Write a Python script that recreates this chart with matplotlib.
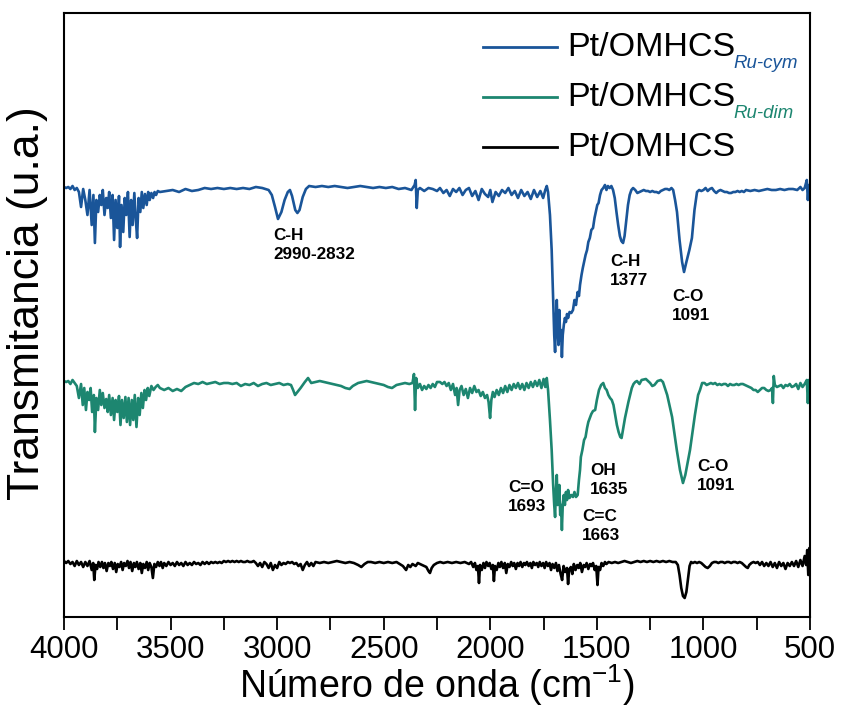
import numpy as np
import matplotlib
matplotlib.use("Agg")
import matplotlib.pyplot as plt

plt.rcParams['font.family'] = ['Liberation Sans', 'DejaVu Sans']

# ---- data (wavenumber, cm-1) and transmittance in arbitrary units (plotted on an inverted scale) ----
wn_blue = [4000, 3990, 3980, 3970, 3960, 3950, 3940, 3930, 3920, 3910, 3900, 3890, 3880, 3870, 3862, 3855, 3848, 3840, 3832, 3825,
           3818, 3810, 3802, 3795, 3788, 3780, 3772, 3765, 3758, 3750, 3742, 3737, 3730, 3722, 3715, 3708, 3700, 3692, 3685, 3678,
           3670, 3663, 3657, 3650, 3642, 3635, 3628, 3620, 3612, 3605, 3598, 3590, 3582, 3575, 3568, 3560, 3550,
           3520, 3490, 3460, 3430, 3400, 3370, 3340, 3310, 3280, 3250, 3220, 3190, 3160, 3130, 3100, 3070, 3040,
           3025, 3010, 2996, 2980, 2965, 2950, 2940, 2930, 2915, 2905, 2895, 2880, 2865, 2850,
           2820, 2790, 2760, 2730, 2700, 2670, 2640, 2610, 2580, 2550, 2520, 2490, 2460, 2430, 2400, 2370, 2355, 2350, 2345, 2340,
           2330, 2310, 2290, 2270, 2250, 2236, 2220, 2205, 2190, 2175, 2160, 2145, 2130, 2115, 2100, 2085, 2070, 2055, 2040, 2025,
           2010, 2000, 1990, 1975, 1960, 1945, 1930, 1915, 1900, 1885, 1870, 1855, 1840, 1825, 1810, 1795, 1780, 1765, 1752, 1742,
           1735, 1729, 1720, 1712, 1705, 1700, 1696, 1692, 1688, 1684, 1680, 1676, 1672, 1668, 1664, 1660, 1655, 1650, 1645, 1640,
           1635, 1628, 1620, 1612, 1605, 1598, 1590, 1584, 1579, 1572, 1566, 1560, 1553, 1546, 1540, 1533, 1526, 1518, 1511, 1505,
           1498, 1492, 1485, 1478, 1470, 1462, 1455, 1448, 1440, 1432, 1424, 1416, 1408, 1400, 1392, 1385, 1377, 1370, 1362, 1354,
           1346, 1338, 1330, 1320, 1310, 1300, 1290, 1280, 1270, 1260, 1250, 1240, 1230, 1220, 1210, 1200, 1190, 1180, 1170, 1160,
           1150, 1142, 1133, 1124, 1112, 1100, 1091, 1080, 1066, 1054, 1042, 1030, 1020, 1010, 1000, 990, 980, 970, 960, 950,
           940, 930, 920, 910, 900, 890, 880, 870, 860, 850, 840, 830, 820, 810, 800, 780, 760, 740, 720, 700,
           680, 660, 640, 620, 600, 580, 560, 545, 535, 525, 515, 510, 505, 500]
t_blue = [187, 188, 187, 189, 186, 190, 188, 192, 207, 189, 200, 215, 190, 225, 195, 243, 200, 212, 195, 205,
          190, 215, 198, 208, 192, 218, 195, 240, 200, 228, 196, 247, 205, 232, 198, 215, 192, 237, 200, 225,
          193, 220, 238, 198, 212, 192, 208, 194, 205, 192, 200, 193, 198, 192, 195, 191, 192,
          191, 190, 192, 189, 191, 190, 188, 189, 188, 189, 188, 189, 188, 189, 187, 188, 190,
          195, 207, 219, 212, 200, 192, 190, 196, 210, 213, 210, 197, 189, 186,
          187, 186, 187, 186, 187, 188, 187, 186, 187, 188, 187, 188, 187, 189, 188, 190, 185, 180, 208, 190,
          188, 191, 188, 189, 191, 188, 193, 190, 196, 189, 192, 188, 195, 190, 188, 196, 191, 200, 189, 194,
          197, 190, 202, 192, 196, 190, 193, 188, 195, 191, 198, 190, 196, 192, 199, 190, 197, 191, 198, 190,
          186, 192, 215, 250, 300, 335, 352, 320, 300, 330, 345, 310, 340, 330, 357, 335, 325, 318, 322, 314,
          318, 312, 313, 310, 300, 305, 292, 296, 285, 275, 268, 262, 255, 250, 242, 238, 230, 228, 218, 212,
          205, 203, 195, 190, 188, 185, 190, 186, 188, 186, 190, 198, 212, 225, 236, 241, 243, 236, 220, 205,
          195, 190, 188, 190, 193, 192, 191, 190, 191, 191, 192, 191, 192, 192, 193, 191, 190, 189, 189, 190,
          188, 190, 200, 212, 240, 262, 272, 262, 250, 238, 210, 192, 190, 191, 190, 188, 191, 189, 188, 191,
          193, 191, 190, 191, 192, 192, 193, 193, 192, 192, 191, 192, 191, 192, 190, 191, 190, 191, 190, 189,
          190, 190, 189, 190, 189, 189, 190, 187, 190, 188, 180, 200, 185, 190]

wn_green = [4000, 3990, 3980, 3970, 3960, 3950, 3940, 3930, 3920, 3912, 3905, 3897, 3890, 3882, 3875, 3868, 3860, 3855, 3848, 3840,
            3832, 3825, 3818, 3810, 3802, 3795, 3788, 3780, 3772, 3765, 3758, 3750, 3742, 3735, 3728, 3720, 3712, 3705, 3697, 3690,
            3682, 3675, 3668, 3660, 3652, 3645, 3637, 3630, 3622, 3615, 3607, 3600, 3590, 3580, 3570, 3560, 3550,
            3530, 3510, 3490, 3470, 3450, 3430, 3410, 3390, 3370, 3350, 3330, 3310, 3290, 3270, 3250, 3230, 3210, 3190, 3170, 3150,
            3130, 3110, 3090, 3070, 3050, 3030, 3010, 2990, 2970, 2950, 2935, 2925, 2916, 2905, 2890, 2870, 2855, 2840, 2820, 2800,
            2780, 2760, 2740, 2720, 2700, 2680, 2660, 2645, 2620, 2600, 2580, 2560, 2540, 2520, 2500, 2480, 2461, 2440, 2420, 2400,
            2380, 2365, 2358, 2353, 2348, 2340, 2330, 2320, 2310, 2300, 2290, 2280, 2270, 2260, 2250,
            2236, 2225, 2215, 2205, 2195, 2185, 2175, 2165, 2158, 2151, 2144, 2135, 2125, 2115, 2105, 2095, 2085, 2075, 2065, 2055,
            2045, 2035, 2025, 2015, 2008, 2001, 1995, 1988, 1980, 1970, 1960, 1950, 1940, 1930, 1920, 1910, 1900, 1890, 1880, 1870,
            1860, 1850, 1840, 1830, 1820, 1810, 1800, 1790, 1780, 1770, 1760, 1750, 1742, 1735, 1729,
            1720, 1712, 1705, 1700, 1696, 1692, 1688, 1684, 1680, 1676, 1672, 1668, 1664, 1660, 1655, 1650, 1645, 1640, 1635, 1628,
            1620, 1612, 1605, 1598, 1590, 1584, 1579, 1575, 1568, 1560, 1553, 1546, 1540, 1533, 1526, 1518,
            1508, 1500, 1490, 1480, 1470, 1462, 1454, 1446, 1438, 1430, 1422, 1414, 1406, 1398, 1390, 1384, 1376, 1368, 1360, 1352,
            1344, 1336, 1328, 1320, 1312, 1300, 1290, 1270, 1250, 1240, 1230, 1215, 1200, 1190, 1170, 1147, 1125, 1110, 1096, 1085,
            1063, 1040, 1025, 1016, 1006, 995, 985, 975, 965, 955, 945, 935, 925, 915, 905, 895, 885, 875, 865, 855,
            845, 835, 825, 815, 805, 795, 785, 775, 765, 755, 745, 735, 725, 715, 705, 695, 685, 678, 674, 670,
            665, 655, 645, 635, 625, 615, 605, 595, 585, 575, 565, 555, 545, 535, 525, 515, 510, 505, 500]
t_green = [381, 382, 381, 384, 380, 383, 386, 398, 384, 405, 388, 410, 392, 400, 388, 412, 395, 432, 398, 410,
           390, 405, 393, 408, 399, 412, 395, 415, 398, 420, 400, 412, 396, 425, 400, 418, 397, 422, 398, 425,
           400, 420, 395, 427, 398, 415, 393, 408, 390, 400, 388, 396, 386, 390, 387, 385, 388,
           390, 388, 391, 389, 391, 387, 385, 383, 384, 382, 384, 383, 382, 384, 383, 383, 384, 383, 386, 384,
           385, 383, 386, 384, 383, 385, 384, 383, 385, 384, 385, 390, 395, 392, 388, 382, 378, 383, 382, 381,
           382, 383, 384, 385, 386, 388, 389, 386, 383, 382, 381, 382, 383, 384, 385, 387, 388, 385, 384, 383,
           384, 383, 374, 410, 378, 388, 384, 390, 386, 389, 385, 388, 384, 387, 382,
           382, 384, 382, 386, 383, 390, 384, 395, 388, 405, 390, 386, 395, 389, 398, 388, 393, 386, 392, 390,
           396, 392, 398, 395, 402, 418, 400, 392, 397, 390, 395, 388, 393, 386, 392, 385, 390, 384, 388, 383,
           389, 384, 390, 383, 388, 382, 387, 381, 386, 380, 388, 379, 387, 378, 390,
           420, 450, 485, 505, 517, 490, 475, 505, 500, 485, 515, 505, 530, 505, 495, 505, 492, 500, 490, 498,
           495, 497, 492, 497, 495, 480, 470, 457, 450, 440, 437, 428, 422, 418, 414, 411,
           410, 400, 390, 385, 383, 388, 390, 395, 398, 400, 405, 415, 425, 432, 437, 438, 428, 418, 410, 402,
           395, 388, 384, 382, 381, 384, 380, 379, 383, 386, 385, 381, 380, 382, 395, 417, 450, 470, 483, 475,
           450, 415, 395, 390, 383, 383, 385, 384, 383, 384, 383, 385, 384, 385, 384, 384, 386, 384, 385, 385,
           384, 385, 384, 384, 385, 386, 387, 388, 390, 390, 392, 390, 388, 388, 390, 391, 390, 388, 403, 376,
           385, 387, 386, 385, 388, 385, 386, 384, 387, 386, 384, 389, 383, 387, 384, 380, 403, 380, 385]

wn_black = [4000, 3990, 3980, 3970, 3960, 3950, 3940, 3930, 3920, 3910, 3900, 3890, 3880, 3870, 3863, 3858, 3852, 3845, 3838, 3830,
            3822, 3815, 3808, 3800, 3792, 3785, 3778, 3770, 3762, 3755, 3748, 3740, 3732, 3725, 3718, 3710, 3702, 3695, 3688, 3680,
            3672, 3665, 3658, 3650, 3642, 3635, 3628, 3620, 3612, 3605, 3598, 3590, 3583, 3576, 3568, 3560, 3552, 3545, 3537, 3530,
            3520, 3510, 3500, 3490, 3480, 3470, 3460, 3450, 3440, 3430, 3420, 3410, 3400, 3390, 3380, 3370, 3360, 3350, 3340, 3330,
            3320, 3310, 3300, 3290, 3280, 3270, 3260, 3250, 3240, 3230, 3220, 3210, 3200, 3190, 3180, 3170, 3160, 3150, 3140, 3130,
            3120, 3110, 3100, 3090, 3080, 3070, 3060, 3050, 3040, 3030, 3020, 3010, 3000, 2990, 2980, 2970, 2960, 2950, 2940, 2930,
            2920, 2910, 2900, 2890, 2880, 2870, 2860, 2850, 2840, 2830, 2820, 2800, 2780, 2760, 2740, 2720, 2700, 2680, 2660, 2640,
            2620, 2605, 2590, 2575, 2560, 2540, 2520, 2500, 2480, 2460, 2440, 2425, 2410, 2395, 2385, 2375, 2365, 2350, 2340, 2320,
            2300, 2290, 2283, 2275, 2265, 2250, 2235, 2220, 2200, 2180, 2160, 2140, 2120, 2100, 2090, 2080, 2072, 2065, 2058, 2053,
            2048, 2040, 2032, 2025, 2018, 2010, 2003, 1995, 1988, 1983, 1978, 1970, 1962, 1955, 1948, 1940, 1932, 1925, 1918, 1910,
            1902, 1895, 1888, 1880, 1872, 1865, 1858, 1850, 1842, 1835, 1828, 1820, 1812, 1805, 1798, 1790, 1782, 1775, 1768, 1760,
            1752, 1745, 1738, 1730, 1722, 1715, 1708, 1700, 1692, 1685, 1678, 1670, 1663, 1656, 1648, 1640, 1635, 1630, 1622, 1615,
            1608, 1600, 1592, 1585, 1578, 1570, 1562, 1555, 1548, 1540, 1532, 1525, 1518, 1510, 1503, 1497, 1492, 1485, 1478, 1470,
            1462, 1455, 1445, 1430, 1415, 1400, 1385, 1370, 1355, 1340, 1325, 1310, 1295, 1280, 1265, 1250, 1235, 1220, 1205, 1190,
            1175, 1160, 1145, 1130, 1120, 1112, 1104, 1096, 1088, 1080, 1072, 1065, 1058, 1050, 1040, 1030, 1020, 1010, 1000, 990,
            980, 970, 960, 950, 940, 930, 920, 910, 900, 890, 880, 870, 860, 850, 840, 830, 820, 810, 800, 792,
            785, 775, 765, 755, 745, 735, 725, 715, 705, 695, 685, 675, 665, 655, 645, 635, 625, 615, 605, 595,
            585, 575, 565, 555, 545, 535, 525, 518, 513, 508, 503, 500]
t_black = [561, 563, 561, 564, 562, 566, 561, 565, 562, 567, 562, 566, 561, 570, 563, 580, 565, 569, 562, 567,
           562, 568, 563, 571, 563, 566, 562, 569, 563, 572, 564, 567, 562, 570, 563, 566, 561, 568, 562, 571,
           563, 567, 562, 569, 563, 573, 564, 568, 562, 570, 563, 567, 578, 564, 567, 562, 566, 562, 568, 563,
           566, 562, 565, 563, 566, 562, 565, 563, 566, 562, 565, 563, 565, 562, 564, 563, 565, 562, 564, 562,
           564, 562, 563, 562, 563, 562, 563, 561, 562, 561, 562, 561, 562, 561, 562, 561, 562, 562, 561, 562,
           562, 561, 563, 566, 563, 567, 562, 564, 568, 563, 570, 565, 568, 562, 565, 563, 564, 562, 563, 562,
           564, 563, 566, 564, 570, 565, 562, 566, 563, 566, 562, 563, 562, 563, 562, 561, 562, 563, 562, 563,
           565, 567, 564, 562, 562, 563, 562, 563, 562, 563, 562, 564, 566, 570, 565, 567, 564, 566, 563, 565,
           567, 571, 573, 568, 565, 563, 562, 563, 562, 563, 562, 563, 562, 564, 562, 567, 563, 570, 566, 583,
           565, 570, 563, 568, 562, 566, 563, 569, 565, 581, 566, 570, 563, 567, 562, 568, 563, 573, 564, 567,
           562, 566, 563, 569, 563, 566, 562, 567, 563, 565, 562, 566, 563, 568, 562, 565, 563, 567, 562, 566,
           563, 568, 562, 566, 563, 570, 564, 568, 563, 571, 565, 574, 580, 566, 572, 568, 584, 570, 567, 574,
           564, 570, 565, 568, 563, 572, 565, 567, 563, 569, 564, 566, 563, 570, 566, 585, 567, 570, 563, 566,
           562, 564, 562, 563, 562, 563, 562, 561, 562, 563, 562, 561, 562, 561, 562, 561, 562, 561, 562, 561,
           562, 561, 562, 562, 565, 575, 588, 596, 598, 592, 578, 566, 562, 563, 562, 563, 562, 563, 565, 567,
           568, 566, 563, 562, 562, 563, 562, 562, 563, 562, 562, 563, 562, 562, 563, 562, 563, 565, 567, 568,
           565, 563, 562, 563, 562, 565, 562, 566, 563, 566, 562, 567, 563, 568, 562, 566, 563, 569, 563, 566,
           562, 566, 561, 567, 560, 566, 556, 565, 550, 575, 548, 553]

labels_main = ["Pt/OMHCS", "Pt/OMHCS", "Pt/OMHCS"]
labels_sub = ["Ru-cym", "Ru-dim", ""]
colors = ["#1a5599", "#1d8670", "#000000"]

annotations = [  # (text, wavenumber, level)
    ("C-H\n2990-2832", 3019, 245),
    ("C-H\n1377", 1438, 271),
    ("C-O\n1091", 1147, 306),
    ("C=O\n1693", 1917, 497),
    ("OH\n1635", 1532, 480),
    ("C=C\n1663", 1570, 526),
    ("C-O\n1091", 1030, 476),
]

xticks = [4000, 3500, 3000, 2500, 2000, 1500, 1000, 500]

fig = plt.figure(figsize=(8.42, 7.07), dpi=100)
ax = fig.add_axes([64/842, (707-617)/707, 746/842, 604/707])

for wn, t, c in zip([wn_blue, wn_green, wn_black], [t_blue, t_green, t_black], colors):
    ax.plot(wn, t, color=c, lw=1.9, solid_joinstyle='round')

ax.set_xlim(4000, 500)
ax.set_ylim(617, 13)
ax.set_yticks([])
ax.set_xticks(xticks)
ax.set_xticks(np.arange(4000, 499, -250), minor=True)
ax.tick_params(axis='x', which='both', direction='out', length=9, width=1.3, labelsize=22.5, pad=4)
for s in ax.spines.values():
    s.set_linewidth(1.5)

ax.set_xlabel("Número de onda (cm$^{\\mathregular{-1}}$)", fontsize=27, labelpad=-2)
ax.set_ylabel("Transmitancia (u.a.)", fontsize=32)
ax.yaxis.set_label_coords(-0.022, 0.52)

for txt, x, y in annotations:
    ax.text(x, y, txt, fontsize=12.3, fontweight='bold', ha='left', va='center', linespacing=1.4)

# legend (manual, to allow coloured italic subscripts)
leg_y = [47, 97, 147]
for c, lm, ls, ly in zip(colors, labels_main, labels_sub, leg_y):
    ax.plot([2034, 1687], [ly, ly], color=c, lw=2.0, clip_on=False)
    ax.text(1640, ly + 1, lm, fontsize=24.5, ha='left', va='center')
    if ls:
        ax.text(861, ly + 16, ls, fontsize=13.5, style='italic', color=c, ha='left', va='center')

fig.savefig("out.png", dpi=100)
